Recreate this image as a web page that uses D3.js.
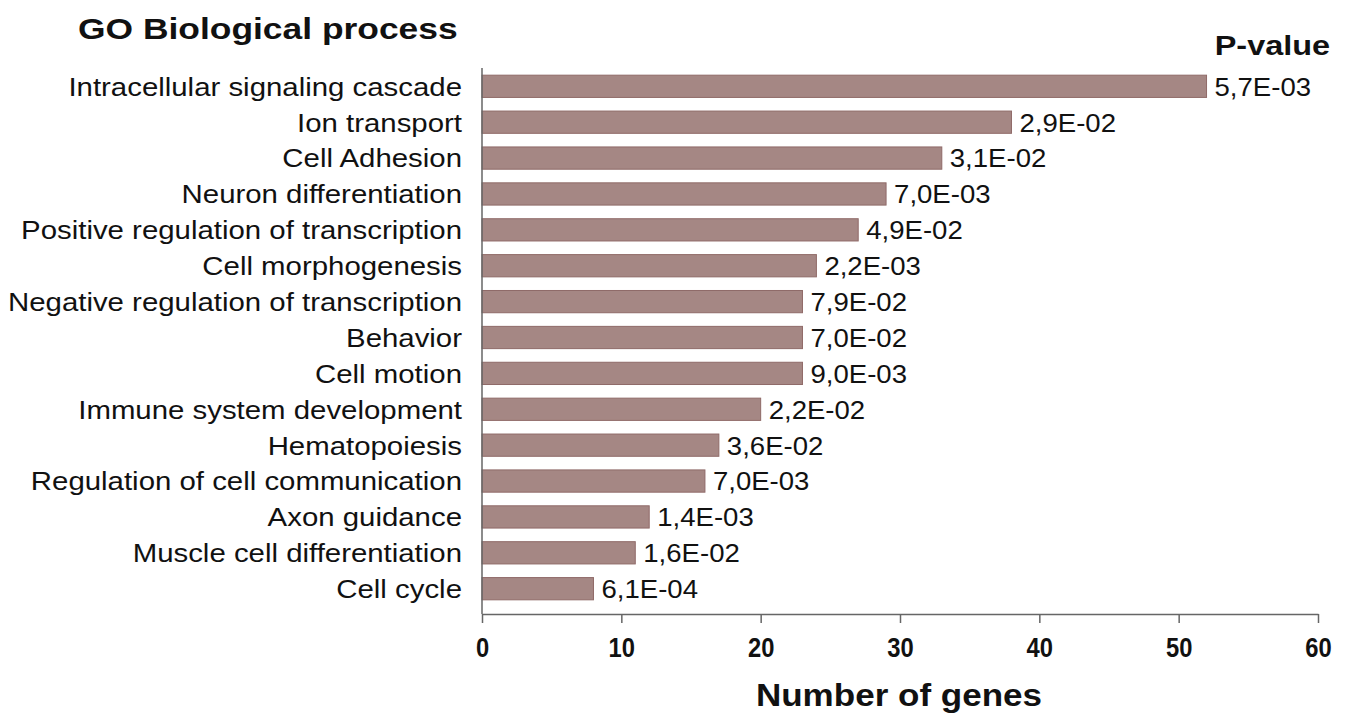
<!DOCTYPE html>
<html><head><meta charset="utf-8">
<script src="https://cdn.jsdelivr.net/npm/d3@7"></script>
<style>body{margin:0;background:#fff}</style>
</head><body>
<svg id="c" width="1348" height="719"></svg>
<script>
const categories = ["Intracellular signaling cascade","Ion transport","Cell Adhesion","Neuron differentiation","Positive regulation of transcription","Cell morphogenesis","Negative regulation of transcription","Behavior","Cell motion","Immune system development","Hematopoiesis","Regulation of cell communication","Axon guidance","Muscle cell differentiation","Cell cycle"];
const geneCounts = [52,38,33,29,27,24,23,23,23,20,17,16,12,11,8];
const pValues = ["5,7E-03","2,9E-02","3,1E-02","7,0E-03","4,9E-02","2,2E-03","7,9E-02","7,0E-02","9,0E-03","2,2E-02","3,6E-02","7,0E-03","1,4E-03","1,6E-02","6,1E-04"];
const xTicks = [0,10,20,30,40,50,60];

const svg = d3.select("#c");
const font = "'Liberation Sans', Arial, sans-serif";
const x = d3.scaleLinear().domain([0,60]).range([482,1318]);
const y = d3.scaleBand().domain(categories).range([68,607]).paddingInner(0.38).paddingOuter(0.2);

function stretch(sel, f){
  sel.each(function(){
    const n = this.getComputedTextLength();
    d3.select(this).attr("textLength", n*f).attr("lengthAdjust","spacingAndGlyphs");
  });
}

svg.append("g").selectAll("rect").data(categories).join("rect")
  .attr("x", x(0)).attr("y", d=>y(d))
  .attr("width", (d,i)=>x(geneCounts[i])-x(0)).attr("height", y.bandwidth())
  .attr("fill","#a58784").attr("stroke","#8f6a68").attr("stroke-width",1);

svg.append("g").selectAll("text").data(categories).join("text")
  .attr("x",462).attr("y",d=>y(d)+y.bandwidth()/2).attr("dy","0.36em")
  .attr("text-anchor","end").attr("font-family",font).attr("font-size",26)
  .attr("fill","#111").text(d=>d).call(stretch,1.13);

svg.append("g").selectAll("text").data(categories).join("text")
  .attr("x",(d,i)=>x(geneCounts[i])+8).attr("y",d=>y(d)+y.bandwidth()/2).attr("dy","0.36em")
  .attr("font-family",font).attr("font-size",26).attr("fill","#111").text((d,i)=>pValues[i]).call(stretch,1.06);

// y axis line
svg.append("line").attr("x1",482).attr("x2",482).attr("y1",68).attr("y2",614).attr("stroke","#666").attr("stroke-width",1.5);

const ax = svg.append("g").attr("transform","translate(0,614)")
  .call(d3.axisBottom(x).tickValues(xTicks).tickSize(9).tickSizeOuter(0).tickPadding(15));
ax.select(".domain").attr("stroke","#666").attr("stroke-width",1.5);
ax.selectAll(".tick line").attr("stroke","#666").attr("stroke-width",1.5);
ax.selectAll(".tick text").attr("font-family",font).attr("font-size",27).attr("font-weight","bold").attr("fill","#111").call(stretch,0.88);

svg.append("text").attr("x",78).attr("y",39).attr("font-family",font).attr("font-size",30).attr("font-weight","bold").attr("fill","#111").text("GO Biological process").call(stretch,1.18);
svg.append("text").attr("x",1330).attr("y",55).attr("text-anchor","end").attr("font-family",font).attr("font-size",27).attr("font-weight","bold").attr("fill","#111").text("P-value").call(stretch,1.2);
svg.append("text").attr("x",899).attr("y",706).attr("text-anchor","middle").attr("font-family",font).attr("font-size",31).attr("font-weight","bold").attr("fill","#111").text("Number of genes").call(stretch,1.13);
</script>
</body></html>
